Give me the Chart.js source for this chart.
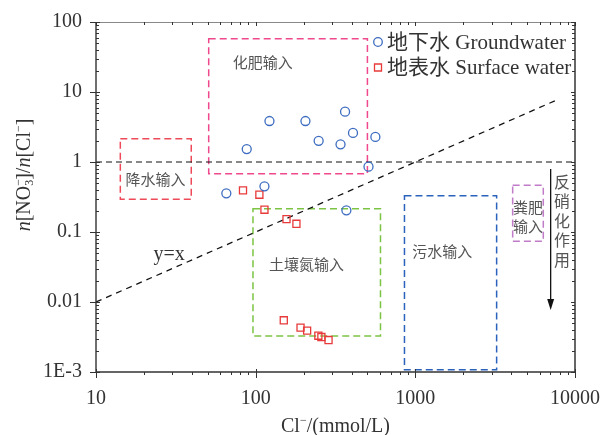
<!DOCTYPE html>
<html>
<head>
<meta charset="utf-8">
<script src="https://cdn.jsdelivr.net/npm/chart.js@4"></script>
<style>
  body { margin: 0; background: #fff; }
  canvas { display: block; }
</style>
</head>
<body>
<canvas id="nitrateChart" width="602" height="435"></canvas>
<script>
// Cl- (mmol/L) and NO3-/Cl- molar ratio
const gwCl = [87.9, 122, 205, 248, 340, 363, 407, 562, 509, 65.5, 113.5, 370];
const gwRatio = [1.53, 3.85, 3.85, 2.01, 1.79, 5.23, 2.6, 2.28, 0.857, 0.357, 0.45, 0.204];
const swCl = [83.3, 105.5, 113.5, 156, 180, 150, 191, 210, 247, 258, 286];
const swRatio = [0.394, 0.341, 0.208, 0.153, 0.131, 0.00548, 0.0043, 0.0039, 0.0033, 0.00316, 0.00286];

const seriesNames = ['地下水 Groundwater', '地表水 Surface water'];

// source regions (data units)
const boxNames = ['化肥输入', '降水输入', '土壤氮输入', '污水输入', '粪肥输入'];
const boxClRange = [[50.8, 501], [14.2, 39.5], [96.2, 605], [855, 3230], [4070, 6330]];
const boxRatioRange = [[0.68, 57.7], [0.293, 2.15], [0.00327, 0.215], [0.00108, 0.33], [0.0736, 0.464]];

// reference lines
const refLineCl = [10, 10000];
const refLineRatio = [1, 1];
const slopeLineCl = [10, 7500];
const slopeLineRatio = [0.01, 7.5];

// axis ticks
const xTicks = [10, 100, 1000, 10000];
const xTickLabels = ['10', '100', '1000', '10000'];
const yTicks = [0.001, 0.01, 0.1, 1, 10, 100];
const yTickLabels = ['1E-3', '0.01', '0.1', '1', '10', '100'];

// styling
const boxColors = ['#f0488c', '#ee4a5a', '#7cc444', '#2a62bc', '#c07cc8'];
const boxLabelAt = [[71.8, 26.2], [15.3, 0.571], [121, 0.0346], [955, 0.0536], [4085, 0.2276]];
const gwColor = '#3d6cc0';
const swColor = '#e83a3a';
const textColor = '#333';
const serif = '"Liberation Serif", "Noto Sans CJK SC", serif';
const cjk = '"Noto Sans CJK SC", sans-serif';

function toPoints(xs, ys) {
    return xs.map((x, i) => ({ x: x, y: ys[i] }));
}

// draws a list of text pieces (with sub/superscripts) centred on (x, y)
function drawRich(ctx, parts, x, y) {
    let total = 0;
    parts.forEach(p => {
        ctx.font = p.font;
        p.w = ctx.measureText(p.text).width;
        if (!p.stack) total += p.w;
    });
    let cx = x - total / 2;
    let lastX = cx;
    parts.forEach(p => {
        ctx.font = p.font;
        const at = p.stack ? lastX : cx;
        ctx.fillText(p.text, at, y + (p.dy || 0));
        if (!p.stack) {
            lastX = cx;
            cx += p.w;
        }
    });
}

const decorations = {
    id: 'decorations',
    beforeDatasetsDraw(chart) {
        const { ctx } = chart;
        const xs = chart.scales.x, ys = chart.scales.y;
        ctx.save();
        ctx.lineWidth = 1.5;
        ctx.setLineDash([7, 4]);
        boxNames.forEach((name, i) => {
            const x0 = xs.getPixelForValue(boxClRange[i][0]);
            const x1 = xs.getPixelForValue(boxClRange[i][1]);
            const y0 = ys.getPixelForValue(boxRatioRange[i][1]);
            const y1 = ys.getPixelForValue(boxRatioRange[i][0]);
            ctx.strokeStyle = boxColors[i];
            ctx.strokeRect(x0, y0, x1 - x0, y1 - y0);
        });
        ctx.restore();

        // box captions
        ctx.save();
        ctx.fillStyle = '#555';
        ctx.font = '15px ' + cjk;
        ctx.textBaseline = 'middle';
        ctx.textAlign = 'left';
        boxNames.forEach((name, i) => {
            const lx = xs.getPixelForValue(boxLabelAt[i][0]);
            const ly = ys.getPixelForValue(boxLabelAt[i][1]);
            if (name === '粪肥输入') {
                ctx.fillText('粪肥', lx, ly);
                ctx.fillText('输入', lx, ly + 19);
            } else {
                ctx.fillText(name, lx, ly);
            }
        });
        ctx.restore();
    },
    afterDraw(chart) {
        const { ctx, chartArea: a } = chart;
        const xs = chart.scales.x, ys = chart.scales.y;
        ctx.save();

        // frame
        ctx.setLineDash([]);
        ctx.strokeStyle = '#888';
        ctx.lineWidth = 1;
        ctx.beginPath();
        ctx.moveTo(a.left, a.top + 0.5);
        ctx.lineTo(a.right, a.top + 0.5);
        ctx.stroke();
        ctx.strokeStyle = '#666';
        ctx.lineWidth = 2;
        ctx.beginPath();
        ctx.moveTo(a.right, a.top);
        ctx.lineTo(a.right, a.bottom);
        ctx.stroke();
        ctx.strokeStyle = '#333';
        ctx.lineWidth = 1.4;
        ctx.beginPath();
        ctx.moveTo(a.left, a.top);
        ctx.lineTo(a.left, a.bottom);
        ctx.lineTo(a.right, a.bottom);
        ctx.stroke();

        // tick marks
        ctx.lineWidth = 1;
        ctx.strokeStyle = '#333';
        ctx.beginPath();
        xTicks.forEach((t, k) => {
            const p = Math.round(xs.getPixelForValue(t)) + 0.5;
            ctx.moveTo(p, a.bottom - 3); ctx.lineTo(p, a.bottom + 6);
            ctx.moveTo(p, a.top); ctx.lineTo(p, a.top + 4);
            if (k < xTicks.length - 1) {
                for (let m = 2; m <= 9; m++) {
                    const q = Math.round(xs.getPixelForValue(t * m)) + 0.5;
                    ctx.moveTo(q, a.bottom); ctx.lineTo(q, a.bottom + 3);
                    ctx.moveTo(q, a.top); ctx.lineTo(q, a.top + 3);
                }
            }
        });
        yTicks.forEach((t, k) => {
            const p = Math.round(ys.getPixelForValue(t)) + 0.5;
            ctx.moveTo(a.left - 6, p); ctx.lineTo(a.left + 4, p);
            ctx.moveTo(a.right - 4, p); ctx.lineTo(a.right, p);
            if (k < yTicks.length - 1) {
                for (let m = 2; m <= 9; m++) {
                    const q = Math.round(ys.getPixelForValue(t * m)) + 0.5;
                    ctx.moveTo(a.left, q); ctx.lineTo(a.left + 3, q);
                    ctx.moveTo(a.right - 3, q); ctx.lineTo(a.right, q);
                }
            }
        });
        ctx.stroke();

        // denitrification arrow
        const ax = xs.getPixelForValue(7040);
        const ay0 = ys.getPixelForValue(0.794);
        const ay1 = ys.getPixelForValue(0.00769);
        ctx.strokeStyle = '#111';
        ctx.fillStyle = '#111';
        ctx.lineWidth = 1.3;
        ctx.beginPath();
        ctx.moveTo(ax, ay0);
        ctx.lineTo(ax, ay1 - 8);
        ctx.stroke();
        ctx.beginPath();
        ctx.moveTo(ax - 3.5, ay1 - 11);
        ctx.lineTo(ax + 3.5, ay1 - 11);
        ctx.lineTo(ax, ay1);
        ctx.closePath();
        ctx.fill();

        ctx.fillStyle = '#555';
        ctx.font = '16px ' + cjk;
        ctx.textAlign = 'center';
        ctx.textBaseline = 'middle';
        const vx = xs.getPixelForValue(8290);
        const vy = ys.getPixelForValue(0.52);
        '反硝化作用'.split('').forEach((ch, i) => ctx.fillText(ch, vx, vy + i * 19.5));

        // y = x label
        ctx.fillStyle = textColor;
        ctx.textAlign = 'left';
        ctx.font = '20px ' + serif;
        ctx.fillText('y=x', xs.getPixelForValue(22.9), ys.getPixelForValue(0.0469));

        // legend
        const legendRows = [
            { text: seriesNames[0], color: gwColor, style: 'circle' },
            { text: seriesNames[1], color: swColor, style: 'rect' }
        ];
        legendRows.forEach((row, i) => {
            const my = 42 + i * 25.5;
            ctx.strokeStyle = row.color;
            ctx.lineWidth = 1.3;
            ctx.beginPath();
            if (row.style === 'circle') ctx.arc(378, my, 4.3, 0, Math.PI * 2);
            else ctx.rect(374.5, my - 3.5, 7, 7);
            ctx.stroke();
            ctx.fillStyle = textColor;
            ctx.font = '21px ' + serif;
            ctx.textAlign = 'left';
            ctx.fillText(row.text, 387, my + 1);
        });

        // axis titles
        ctx.fillStyle = textColor;
        ctx.textBaseline = 'middle';
        ctx.textAlign = 'left';
        drawRich(ctx, [
            { text: 'Cl', font: '20px ' + serif },
            { text: '−', font: '12px ' + serif, dy: -6 },
            { text: '/(mmol/L)', font: '20px ' + serif }
        ], (a.left + a.right) / 2, 427);

        ctx.save();
        ctx.translate(25, 175);
        ctx.rotate(-Math.PI / 2);
        drawRich(ctx, [
            { text: 'n', font: 'italic 20px ' + serif },
            { text: '[NO', font: '20px ' + serif },
            { text: '3', font: '12px ' + serif, dy: 5 },
            { text: '−', font: '12px ' + serif, dy: -6, stack: true },
            { text: ']/', font: '20px ' + serif },
            { text: 'n', font: 'italic 20px ' + serif },
            { text: '[Cl', font: '20px ' + serif },
            { text: '−', font: '12px ' + serif, dy: -6 },
            { text: ']', font: '20px ' + serif }
        ], 0, 0);
        ctx.restore();

        ctx.restore();
    }
};

const ctx = document.getElementById('nitrateChart').getContext('2d');
new Chart(ctx, {
    type: 'scatter',
    data: {
        datasets: [
            {
                label: seriesNames[0],
                data: toPoints(gwCl, gwRatio),
                pointStyle: 'circle',
                pointRadius: 4.5,
                borderColor: gwColor,
                backgroundColor: 'rgba(255,255,255,0)',
                borderWidth: 1.3
            },
            {
                label: seriesNames[1],
                data: toPoints(swCl, swRatio),
                pointStyle: 'rect',
                pointRadius: 5,
                borderColor: swColor,
                backgroundColor: 'rgba(255,255,255,0)',
                borderWidth: 1.3
            },
            {
                type: 'line',
                data: toPoints(refLineCl, refLineRatio),
                borderColor: '#111',
                borderWidth: 1.2,
                borderDash: [6, 4],
                pointRadius: 0
            },
            {
                type: 'line',
                data: toPoints(slopeLineCl, slopeLineRatio),
                borderColor: '#111',
                borderWidth: 1.2,
                borderDash: [6, 5],
                pointRadius: 0
            }
        ]
    },
    options: {
        responsive: false,
        animation: false,
        layout: { padding: { top: 22, right: 27, left: 0, bottom: 0 } },
        plugins: {
            legend: { display: false },
            tooltip: { enabled: false }
        },
        scales: {
            x: {
                type: 'logarithmic',
                min: 10,
                max: 10000,
                grid: { display: false, drawTicks: false },
                border: { display: false },
                afterBuildTicks: s => { s.ticks = xTicks.map(v => ({ value: v })); },
                afterFit: s => {
                    s.height = 63;
                    s.paddingLeft = 0;
                    s.paddingRight = 0;
                },
                ticks: {
                    autoSkip: false,
                    maxRotation: 0,
                    padding: 15,
                    color: textColor,
                    font: { family: serif, size: 20 },
                    callback: v => xTickLabels[xTicks.indexOf(v)]
                }
            },
            y: {
                type: 'logarithmic',
                min: 0.001,
                max: 100,
                grid: { display: false, drawTicks: false },
                border: { display: false },
                afterBuildTicks: s => { s.ticks = yTicks.map(v => ({ value: v })); },
                afterFit: s => {
                    s.width = 96;
                    s.paddingTop = 0;
                    s.paddingBottom = 0;
                },
                ticks: {
                    autoSkip: false,
                    padding: 14,
                    color: textColor,
                    font: { family: serif, size: 20 },
                    callback: v => yTickLabels[yTicks.indexOf(v)]
                }
            }
        }
    },
    plugins: [decorations]
});
</script>
</body>
</html>
